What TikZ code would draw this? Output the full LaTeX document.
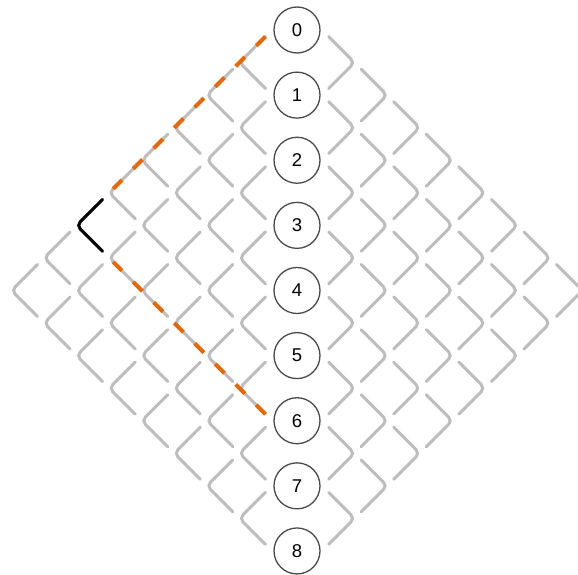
\documentclass[tikz,border=0pt]{standalone}
\usepackage{fontspec}
\setmainfont{Liberation Sans}
\usetikzlibrary{calc}
\definecolor{cgrid}{HTML}{BDBDBD}
\definecolor{corange}{HTML}{E06A10}
\definecolor{cring}{HTML}{4A4A4A}
\tikzset{
  chevron/.style={draw=cgrid, line width=3pt, rounded corners=5pt, line cap=round},
  reflect/.style={draw=black, line width=3pt, rounded corners=5pt, line cap=round},
  pathbit/.style={draw=corange, line width=4pt, dash pattern=on 13pt off 16pt},
  level/.style={circle, draw=cring, line width=1.3pt, fill=white, minimum size=46pt, inner sep=0pt, font=\fontsize{18.5}{20}\selectfont},
}

\begin{document}
\begin{tikzpicture}[x=1pt, y=-1pt]
  \useasboundingbox (0,0) rectangle (578,575);
  \clip (0,0) rectangle (578,575);
  \def\s{32.56}
  \def\d{26}
  % left half: chevrons opening to the right
  \foreach \a in {1,...,8} {
    \pgfmathtruncatemacro\kmax{8-\a}
    \foreach \k in {0,...,\kmax} {
      \pgfmathsetmacro\x{272-\s*\a}
      \pgfmathsetmacro\y{30+\s*(\a+2*\k)}
      \draw[chevron] (\x+\d,\y-\d) -- (\x,\y) -- (\x+\d,\y+\d);
    }
  }
  % right half: chevrons opening to the left
  \foreach \b in {1,...,8} {
    \pgfmathtruncatemacro\kmax{8-\b}
    \foreach \k in {0,...,\kmax} {
      \pgfmathsetmacro\x{322+\s*\b}
      \pgfmathsetmacro\y{30+\s*(\b+2*\k)}
      \draw[chevron] (\x-\d,\y-\d) -- (\x,\y) -- (\x-\d,\y+\d);
    }
  }
  % levels 0..8
  \foreach \k in {0,...,8} \node[level] (n\k) at (297,30+65.12*\k) {\k};
  % the turning step
  \coordinate (turn) at (272-6*\s, 30+6*\s);
  \draw[reflect] ($(turn)+(\d,-\d)$) -- (turn) -- ($(turn)+(\d,\d)$);
  % path down to the turn and back to level 6
  \coordinate (downtop) at (272-\s+\d, 30+\s-\d);
  \coordinate (downend) at (272-5*\s+4, 30+5*\s-4);
  \coordinate (uptop) at (272-\s+\d, 30+11*\s+\d);
  \coordinate (upend) at (272-5*\s+4, 30+7*\s+4);
  \draw[pathbit] (downtop) -- (downend);
  \draw[pathbit] (uptop) -- (upend);
\end{tikzpicture}
\end{document}
